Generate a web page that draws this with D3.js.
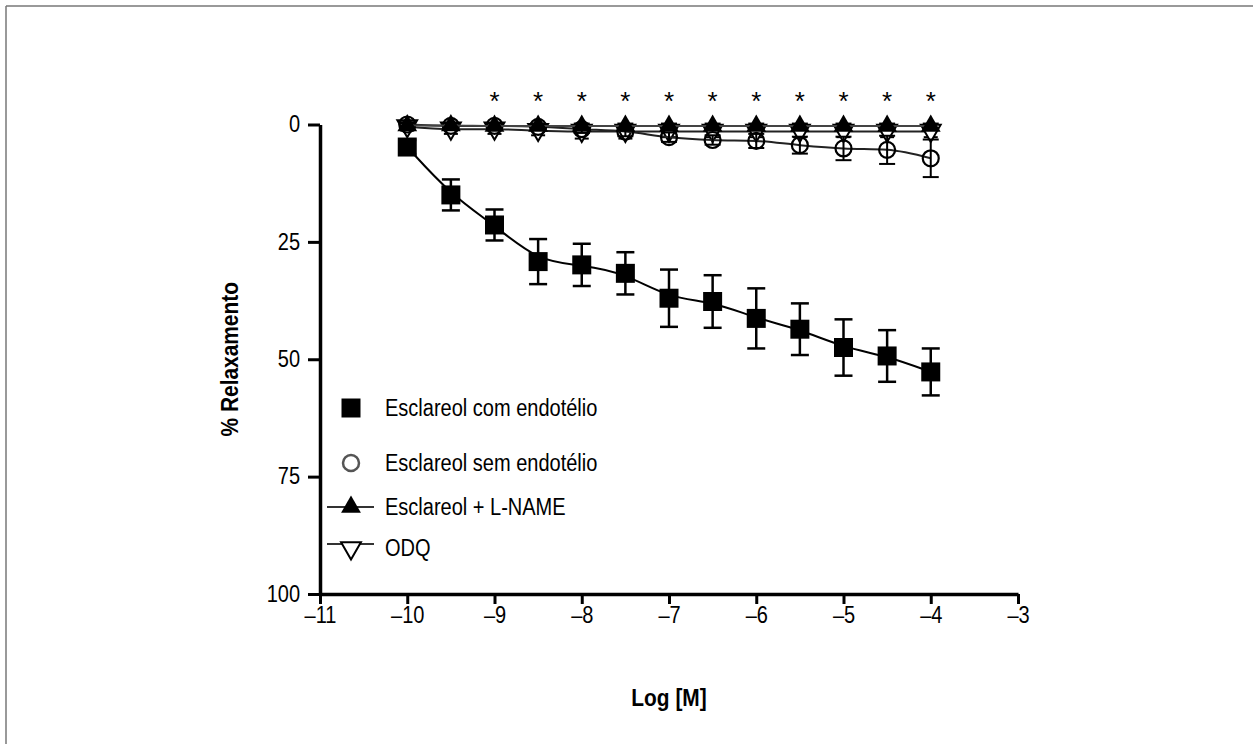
<!DOCTYPE html>
<html>
<head>
<meta charset="utf-8">
<script src="https://cdn.jsdelivr.net/npm/d3@7"></script>
<style>
html,body{margin:0;padding:0;background:#fff;}
svg{display:block;}
text{font-family:"Liberation Sans",Arial,sans-serif;fill:#000;}
</style>
</head>
<body>
<svg id="chart" width="1253" height="744"></svg>
<script>
// ---- data ----
const logConc = [-10, -9.5, -9, -8.5, -8, -7.5, -7, -6.5, -6, -5.5, -5, -4.5, -4];
const comEndotelio = [4.8, 15.0, 21.4, 29.2, 29.9, 31.7, 37.0, 37.7, 41.3, 43.6, 47.5, 49.3, 52.7];
const comEndotelioErr = [1.5, 3.3, 3.3, 4.8, 4.5, 4.5, 6.1, 5.6, 6.4, 5.5, 6.0, 5.5, 5.0];
const semEndotelio = [0.0, 0.3, 0.3, 0.5, 1.0, 1.5, 2.7, 3.3, 3.5, 4.4, 5.1, 5.4, 7.2];
const semEndotelioErr = [0.5, 0.5, 0.5, 0.5, 0.8, 1.0, 1.0, 1.0, 1.5, 1.8, 2.5, 3.0, 4.0];
const lName = [0.2, 0.2, 0.3, 0.3, 0.3, 0.3, 0.3, 0.3, 0.3, 0.3, 0.3, 0.3, 0.3];
const lNameErr = [0.5, 0.5, 0.5, 0.5, 0.5, 0.5, 0.5, 0.5, 0.5, 0.5, 0.5, 0.5, 0.5];
const odq = [0.5, 1.0, 1.0, 1.3, 1.5, 1.5, 1.5, 1.5, 1.5, 1.5, 1.5, 1.5, 1.5];
const odqErr = [0.8, 1.0, 1.0, 1.0, 1.5, 1.5, 1.2, 1.2, 1.2, 1.2, 1.2, 1.2, 1.2];
const asteriskX = [-9, -8.5, -8, -7.5, -7, -6.5, -6, -5.5, -5, -4.5, -4];
const xTicks = [-11, -10, -9, -8, -7, -6, -5, -4, -3];
const yTicks = [0, 25, 50, 75, 100];
const legendLabels = ["Esclareol com endotélio", "Esclareol sem endotélio", "Esclareol + L-NAME", "ODQ"];
const xTitle = "Log [M]";
const yTitle = "% Relaxamento";

const NARROW = 0.87; // emulate a condensed face

const svg = d3.select("#chart");

// frame (top + left)
svg.append("line").attr("x1", 6).attr("x2", 1253).attr("y1", 6).attr("y2", 6).attr("stroke", "#777").attr("stroke-width", 1.5);
svg.append("line").attr("x1", 6).attr("x2", 6).attr("y1", 6).attr("y2", 744).attr("stroke", "#777").attr("stroke-width", 1.5);

const x = d3.scaleLinear().domain([-11, -3]).range([320, 1018]);
const y = d3.scaleLinear().domain([0, 100]).range([124.5, 594]);

// axes
const xAxis = d3.axisBottom(x).tickValues(xTicks).tickSize(10).tickSizeOuter(0)
  .tickFormat(d => String(d).replace("-", "\u2013"));
const gx = svg.append("g").attr("transform", `translate(0,${y(100)})`).call(xAxis);
gx.attr("font-family", null).attr("font-size", null);
gx.select(".domain").attr("stroke", "#000").attr("stroke-width", 3.5);
gx.selectAll(".tick line").attr("stroke", "#000").attr("stroke-width", 3);
gx.selectAll(".tick text").attr("font-size", 23).attr("dy", "0.71em").attr("y", 13)
  .attr("transform", `scale(${NARROW},1)`);

const yAxis = d3.axisLeft(y).tickValues(yTicks).tickSize(12).tickSizeOuter(0);
const gy = svg.append("g").attr("transform", `translate(${x(-11)},0)`).call(yAxis);
gy.attr("font-family", null).attr("font-size", null);
gy.select(".domain").attr("stroke", "#000").attr("stroke-width", 3.5);
gy.selectAll(".tick line").attr("stroke", "#000").attr("stroke-width", 3);
gy.selectAll(".tick text").attr("font-size", 23).attr("x", -20 / NARROW)
  .attr("transform", `scale(${NARROW},1)`);

// titles
svg.append("text").attr("transform", `translate(669,706) scale(${NARROW},1)`).attr("text-anchor", "middle")
  .attr("font-size", 24).attr("font-weight", "bold").text(xTitle);
svg.append("text").attr("transform", `translate(238,${y(50)}) rotate(-90) scale(${NARROW},1)`).attr("text-anchor", "middle")
  .attr("font-size", 24).attr("font-weight", "bold").text(yTitle);

function series(vals, errs) { return logConc.map((c, i) => ({c, v: vals[i], e: errs[i]})); }
const sCom = series(comEndotelio, comEndotelioErr);
const sSem = series(semEndotelio, semEndotelioErr);
const sLN = series(lName, lNameErr);
const sODQ = series(odq, odqErr);

const line = d3.line().x(d => x(d.c)).y(d => y(d.v)).curve(d3.curveMonotoneX);
const smooth = d3.line().x(d => x(d.c)).y(d => y(d.v)).curve(d3.curveBasis);

function errBars(data, sw, cap) {
  const g = svg.append("g").attr("stroke", "#000").attr("stroke-width", sw);
  data.forEach(d => {
    g.append("line").attr("x1", x(d.c)).attr("x2", x(d.c)).attr("y1", y(d.v - d.e)).attr("y2", y(d.v + d.e));
    g.append("line").attr("x1", x(d.c) - cap).attr("x2", x(d.c) + cap).attr("y1", y(d.v - d.e)).attr("y2", y(d.v - d.e));
    g.append("line").attr("x1", x(d.c) - cap).attr("x2", x(d.c) + cap).attr("y1", y(d.v + d.e)).attr("y2", y(d.v + d.e));
  });
}

const symSquare = d3.symbol().type(d3.symbolSquare).size(19 * 19);
const symCircle = d3.symbol().type(d3.symbolCircle).size(Math.PI * 8 * 8);
const symTri = d3.symbol().type(d3.symbolTriangle).size(170);

// ODQ
svg.append("path").datum(sODQ).attr("d", line).attr("fill", "none").attr("stroke", "#222").attr("stroke-width", 2);
errBars(sODQ, 2, 7);
svg.append("g").selectAll("path").data(sODQ).join("path")
  .attr("d", symTri).attr("transform", d => `translate(${x(d.c)},${y(d.v) - 1}) rotate(180)`)
  .attr("fill", "#fff").attr("stroke", "#000").attr("stroke-width", 2);

// sem endotélio
svg.append("path").datum(sSem).attr("d", line).attr("fill", "none").attr("stroke", "#222").attr("stroke-width", 2);
errBars(sSem, 2, 8);
svg.append("g").selectAll("path").data(sSem).join("path")
  .attr("d", symCircle).attr("transform", d => `translate(${x(d.c)},${y(d.v)})`)
  .attr("fill", "none").attr("stroke", "#000").attr("stroke-width", 2.2);

// L-NAME
svg.append("path").datum(sLN).attr("d", line).attr("fill", "none").attr("stroke", "#444").attr("stroke-width", 2);
errBars(sLN, 2, 8);
svg.append("g").selectAll("path").data(sLN).join("path")
  .attr("d", symTri).attr("transform", d => `translate(${x(d.c)},${y(d.v)})`)
  .attr("fill", "#000");

// com endotélio
svg.append("path").datum(sCom).attr("d", smooth).attr("fill", "none").attr("stroke", "#000").attr("stroke-width", 2);
errBars(sCom, 2.5, 9);
svg.append("g").selectAll("path").data(sCom).join("path")
  .attr("d", symSquare).attr("transform", d => `translate(${x(d.c)},${y(d.v)})`)
  .attr("fill", "#000");

// asterisks
svg.append("g").selectAll("text").data(asteriskX).join("text")
  .attr("x", d => x(d)).attr("y", 110).attr("text-anchor", "middle")
  .attr("font-size", 26).text("*");

// legend
const lgX = 351, lgText = 385;
const lgY = [408, 463, 507, 548];
svg.append("path").attr("d", symSquare).attr("transform", `translate(${lgX},${lgY[0]})`).attr("fill", "#000");
svg.append("path").attr("d", symCircle).attr("transform", `translate(${lgX},${lgY[1]})`)
  .attr("fill", "none").attr("stroke", "#555").attr("stroke-width", 2.5);
svg.append("line").attr("x1", 327).attr("x2", 374).attr("y1", lgY[2]).attr("y2", lgY[2]).attr("stroke", "#333").attr("stroke-width", 2);
svg.append("path").attr("d", symTri).attr("transform", `translate(${lgX},${lgY[2]})`).attr("fill", "#000");
svg.append("line").attr("x1", 327).attr("x2", 374).attr("y1", lgY[3] - 4).attr("y2", lgY[3] - 4).attr("stroke", "#333").attr("stroke-width", 2);
svg.append("path").attr("d", symTri).attr("transform", `translate(${lgX},${lgY[3]}) rotate(180)`)
  .attr("fill", "#fff").attr("stroke", "#000").attr("stroke-width", 2);
svg.append("g").selectAll("text").data(legendLabels).join("text")
  .attr("transform", (d, i) => `translate(${lgText},${lgY[i] + 8}) scale(${NARROW},1)`)
  .attr("font-size", 23).text(d => d);
</script>
</body>
</html>
